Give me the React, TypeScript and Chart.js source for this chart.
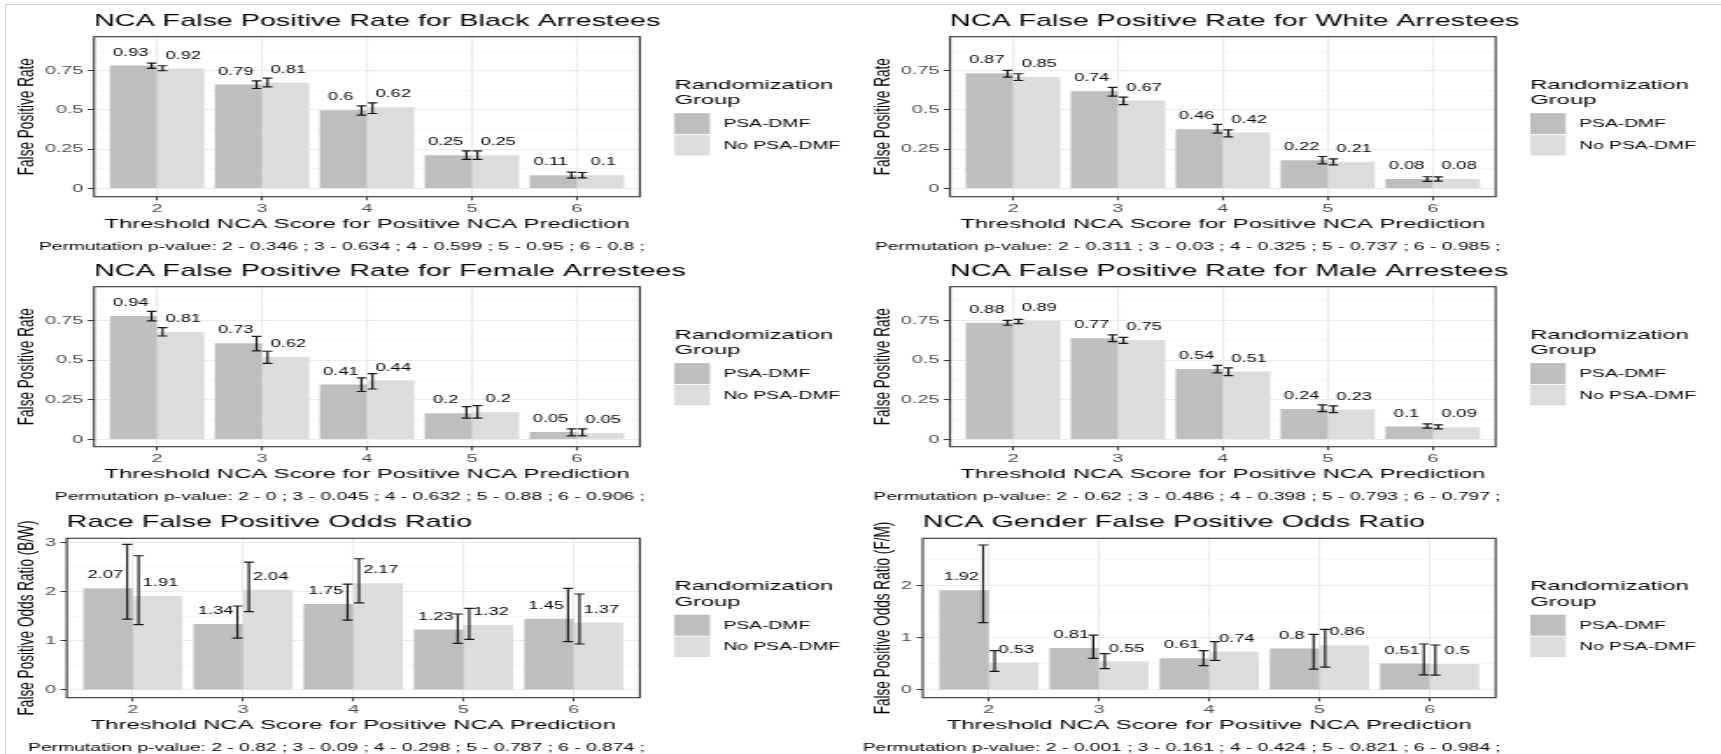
import React, { useEffect, useRef } from "react";
import { Chart, registerables } from "chart.js";

Chart.register(...registerables);

// ---------------- data ----------------
const categories = [2, 3, 4, 5, 6];
const categoryLabels = ["2", "3", "4", "5", "6"];
const groupNames = ["PSA-DMF", "No PSA-DMF"];
const legendTitleLines = ["Randomization", "Group"];
const xAxisTitle = "Threshold NCA Score for Positive NCA Prediction";
const captionPrefix = "Permutation p-value: ";

const rateTicks = [0, 0.25, 0.5, 0.75];
const rateTickLabels = ["0", "0.25", "0.5", "0.75"];
const rateMinorTicks = [0.125, 0.375, 0.625, 0.875];
const raceTicks = [0, 1, 2, 3];
const raceTickLabels = ["0", "1", "2", "3"];
const raceMinorTicks = [0.5, 1.5, 2.5];
const genderTicks = [0, 1, 2];
const genderTickLabels = ["0", "1", "2"];
const genderMinorTicks = [0.5, 1.5, 2.5];

// Black
const blackPsa = [0.784, 0.663, 0.499, 0.212, 0.085];
const blackNoPsa = [0.765, 0.676, 0.518, 0.212, 0.085];
const blackPsaLow = [0.765, 0.637, 0.467, 0.186, 0.066];
const blackPsaHigh = [0.799, 0.686, 0.527, 0.24, 0.104];
const blackNoPsaLow = [0.75, 0.648, 0.478, 0.186, 0.068];
const blackNoPsaHigh = [0.782, 0.703, 0.546, 0.24, 0.102];
const blackPsaLabels = ["0.93", "0.79", "0.6", "0.25", "0.11"];
const blackNoPsaLabels = ["0.92", "0.81", "0.62", "0.25", "0.1"];
const blackPValues = ["0.346", "0.634", "0.599", "0.95", "0.8"];

// White
const whitePsa = [0.735, 0.62, 0.378, 0.18, 0.06];
const whiteNoPsa = [0.71, 0.561, 0.357, 0.17, 0.06];
const whitePsaLow = [0.71, 0.588, 0.353, 0.157, 0.046];
const whitePsaHigh = [0.752, 0.644, 0.408, 0.204, 0.075];
const whiteNoPsaLow = [0.688, 0.535, 0.329, 0.151, 0.047];
const whiteNoPsaHigh = [0.731, 0.582, 0.374, 0.189, 0.074];
const whitePsaLabels = ["0.87", "0.74", "0.46", "0.22", "0.08"];
const whiteNoPsaLabels = ["0.85", "0.67", "0.42", "0.21", "0.08"];
const whitePValues = ["0.311", "0.03", "0.325", "0.737", "0.985"];

// Female
const femalePsa = [0.779, 0.607, 0.347, 0.166, 0.047];
const femaleNoPsa = [0.679, 0.521, 0.372, 0.173, 0.042];
const femalePsaLow = [0.748, 0.559, 0.303, 0.135, 0.023];
const femalePsaHigh = [0.809, 0.651, 0.389, 0.208, 0.067];
const femaleNoPsaLow = [0.653, 0.481, 0.319, 0.135, 0.023];
const femaleNoPsaHigh = [0.706, 0.557, 0.416, 0.214, 0.067];
const femalePsaLabels = ["0.94", "0.73", "0.41", "0.2", "0.05"];
const femaleNoPsaLabels = ["0.81", "0.62", "0.44", "0.2", "0.05"];
const femalePValues = ["0", "0.045", "0.632", "0.88", "0.906"];

// Male
const malePsa = [0.737, 0.639, 0.445, 0.192, 0.082];
const maleNoPsa = [0.748, 0.626, 0.429, 0.19, 0.078];
const malePsaLow = [0.721, 0.618, 0.42, 0.176, 0.072];
const malePsaHigh = [0.752, 0.66, 0.468, 0.219, 0.099];
const maleNoPsaLow = [0.731, 0.607, 0.403, 0.17, 0.067];
const maleNoPsaHigh = [0.758, 0.645, 0.452, 0.212, 0.093];
const malePsaLabels = ["0.88", "0.77", "0.54", "0.24", "0.1"];
const maleNoPsaLabels = ["0.89", "0.75", "0.51", "0.23", "0.09"];
const malePValues = ["0.62", "0.486", "0.398", "0.793", "0.797"];

// Race odds ratio (B/W)
const racePsa = [2.07, 1.34, 1.75, 1.23, 1.45];
const raceNoPsa = [1.91, 2.04, 2.17, 1.32, 1.37];
const racePsaLow = [1.442, 1.054, 1.422, 0.949, 0.982];
const racePsaHigh = [2.959, 1.707, 2.15, 1.545, 2.067];
const raceNoPsaLow = [1.327, 1.592, 1.769, 1.03, 0.935];
const raceNoPsaHigh = [2.728, 2.599, 2.667, 1.66, 1.951];
const racePsaLabels = ["2.07", "1.34", "1.75", "1.23", "1.45"];
const raceNoPsaLabels = ["1.91", "2.04", "2.17", "1.32", "1.37"];
const racePValues = ["0.82", "0.09", "0.298", "0.787", "0.874"];

// Gender odds ratio (F/M)
const genderPsa = [1.92, 0.81, 0.61, 0.8, 0.51];
const genderNoPsa = [0.53, 0.55, 0.74, 0.86, 0.5];
const genderPsaLow = [1.295, 0.609, 0.468, 0.4, 0.29];
const genderPsaHigh = [2.788, 1.055, 0.756, 1.07, 0.885];
const genderNoPsaLow = [0.359, 0.41, 0.571, 0.44, 0.288];
const genderNoPsaHigh = [0.756, 0.699, 0.929, 1.165, 0.865];
const genderPsaLabels = ["1.92", "0.81", "0.61", "0.8", "0.51"];
const genderNoPsaLabels = ["0.53", "0.55", "0.74", "0.86", "0.5"];
const genderPValues = ["0.001", "0.161", "0.424", "0.821", "0.984"];

// ---------------- styling / geometry ----------------
const SX = 1.75; // horizontal stretch of the whole picture
const FONT = "'Liberation Sans', Arial, Helvetica, sans-serif";
const GROUP_COLORS = ["#BEBEBE", "#DCDCDC"];
const F_TITLE = 16.4;
const F_AXIS_TITLE = 13.6;
const F_TICK = 11.3;
const F_LEG_TITLE = 13.6;
const F_LEG = 11;
const F_CAP = 11;
const F_BAR = 10.4;
const ERR_DODGE = 0.052;
const ERR_CAP = 0.046;
const LABEL_DODGE = 0.25;
const LABEL_GAP = 12.7;

const COLS = [
  { x0: 0, wu: 490, panelRight: 639.5, yTitleX: 27, keyLeft: 674, labelLeft: 723 },
  { x0: 858, wu: 493, panelRight: 1495.5, yTitleX: 883, keyLeft: 1530, labelLeft: 1579 },
];
const ROWS = [
  { top: 0, h: 256, titleY: 21, panelTop: 36.7, panelBottom: 196.7, captionY: 247 },
  { top: 250, h: 256, titleY: 271.5, panelTop: 286.7, panelBottom: 446.7, captionY: 497 },
  { top: 500, h: 254, titleY: 522, panelTop: 538.3, panelBottom: 697.7, captionY: 747.5 },
];

const panels = [
  {
    title: "NCA False Positive Rate for Black Arrestees", yTitle: "False Positive Rate",
    col: 0, row: 0, panelLeft: 94, yMin: -0.052, yMax: 0.967,
    ticks: rateTicks, tickLabels: rateTickLabels, minor: rateMinorTicks,
    psa: blackPsa, noPsa: blackNoPsa, psaLow: blackPsaLow, psaHigh: blackPsaHigh,
    noLow: blackNoPsaLow, noHigh: blackNoPsaHigh, psaLabels: blackPsaLabels, noLabels: blackNoPsaLabels,
    pvalues: blackPValues,
  },
  {
    title: "NCA False Positive Rate for White Arrestees", yTitle: "False Positive Rate",
    col: 1, row: 0, panelLeft: 950, yMin: -0.052, yMax: 0.967,
    ticks: rateTicks, tickLabels: rateTickLabels, minor: rateMinorTicks,
    psa: whitePsa, noPsa: whiteNoPsa, psaLow: whitePsaLow, psaHigh: whitePsaHigh,
    noLow: whiteNoPsaLow, noHigh: whiteNoPsaHigh, psaLabels: whitePsaLabels, noLabels: whiteNoPsaLabels,
    pvalues: whitePValues,
  },
  {
    title: "NCA False Positive Rate for Female Arrestees", yTitle: "False Positive Rate",
    col: 0, row: 1, panelLeft: 94, yMin: -0.045, yMax: 0.964,
    ticks: rateTicks, tickLabels: rateTickLabels, minor: rateMinorTicks,
    psa: femalePsa, noPsa: femaleNoPsa, psaLow: femalePsaLow, psaHigh: femalePsaHigh,
    noLow: femaleNoPsaLow, noHigh: femaleNoPsaHigh, psaLabels: femalePsaLabels, noLabels: femaleNoPsaLabels,
    pvalues: femalePValues,
  },
  {
    title: "NCA False Positive Rate for Male Arrestees", yTitle: "False Positive Rate",
    col: 1, row: 1, panelLeft: 950, yMin: -0.045, yMax: 0.964,
    ticks: rateTicks, tickLabels: rateTickLabels, minor: rateMinorTicks,
    psa: malePsa, noPsa: maleNoPsa, psaLow: malePsaLow, psaHigh: malePsaHigh,
    noLow: maleNoPsaLow, noHigh: maleNoPsaHigh, psaLabels: malePsaLabels, noLabels: maleNoPsaLabels,
    pvalues: malePValues,
  },
  {
    title: "Race False Positive Odds Ratio", yTitle: "False Positive Odds Ratio (B/W)",
    col: 0, row: 2, panelLeft: 66.7, yMin: -0.156, yMax: 3.083,
    ticks: raceTicks, tickLabels: raceTickLabels, minor: raceMinorTicks,
    psa: racePsa, noPsa: raceNoPsa, psaLow: racePsaLow, psaHigh: racePsaHigh,
    noLow: raceNoPsaLow, noHigh: raceNoPsaHigh, psaLabels: racePsaLabels, noLabels: raceNoPsaLabels,
    pvalues: racePValues,
  },
  {
    title: "NCA Gender False Positive Odds Ratio", yTitle: "False Positive Odds Ratio (F/M)",
    col: 1, row: 2, panelLeft: 922.7, yMin: -0.148, yMax: 2.917,
    ticks: genderTicks, tickLabels: genderTickLabels, minor: genderMinorTicks,
    psa: genderPsa, noPsa: genderNoPsa, psaLow: genderPsaLow, psaHigh: genderPsaHigh,
    noLow: genderNoPsaLow, noHigh: genderNoPsaHigh, psaLabels: genderPsaLabels, noLabels: genderNoPsaLabels,
    pvalues: genderPValues,
  },
];

function font(size: number) {
  return `${size}px ${FONT}`;
}

function PanelChart({ spec }: { spec: any }) {
  const ref = useRef<HTMLCanvasElement | null>(null);
  const col = COLS[spec.col];
  const row = ROWS[spec.row];

  useEffect(() => {
    const canvas = ref.current;
    if (!canvas) return;
    const ux = (X: number) => (X - col.x0) / SX;
    const uy = (Y: number) => Y - row.top;

    const isMajor = (v: number) => spec.ticks.some((t: number) => Math.abs(t - v) < 1e-9);
    const yLabel = (v: number) => {
      const k = spec.ticks.findIndex((t: number) => Math.abs(t - v) < 1e-9);
      return k >= 0 ? spec.tickLabels[k] : "";
    };
    const xLabel = (v: number) => {
      const k = categories.findIndex((c) => Math.abs(c - v) < 1e-9);
      return k >= 0 ? categoryLabels[k] : "";
    };

    const xScaleH = 27.8 + (F_AXIS_TITLE * 1.2) / 2;
    const padTop = uy(row.panelTop);
    const padBottom = row.h - uy(row.panelBottom) - xScaleH;
    const yScaleW = ux(spec.panelLeft);
    const padRight = col.wu - ux(col.panelRight);
    const yTitlePad = ux(col.yTitleX) - (F_AXIS_TITLE * 1.2) / 2;

    const overlay = {
      id: "overlay",
      afterDatasetsDraw(chart: any) {
        const ctx = chart.ctx;
        const xs = chart.scales.x;
        const ys = chart.scales.y;
        ctx.save();
        ctx.strokeStyle = "#1A1A1A";
        ctx.lineWidth = 1.2;
        const sets = [
          [spec.psaLow, spec.psaHigh, -ERR_DODGE],
          [spec.noLow, spec.noHigh, ERR_DODGE],
        ];
        sets.forEach(([lo, hi, dx]: any) => {
          categories.forEach((c, i) => {
            const x = xs.getPixelForValue(c + dx);
            const xl = xs.getPixelForValue(c + dx - ERR_CAP);
            const xr = xs.getPixelForValue(c + dx + ERR_CAP);
            const y1 = ys.getPixelForValue(lo[i]);
            const y2 = ys.getPixelForValue(hi[i]);
            ctx.beginPath();
            ctx.moveTo(x, y1);
            ctx.lineTo(x, y2);
            ctx.moveTo(xl, y1);
            ctx.lineTo(xr, y1);
            ctx.moveTo(xl, y2);
            ctx.lineTo(xr, y2);
            ctx.stroke();
          });
        });
        ctx.fillStyle = "#000";
        ctx.font = font(F_BAR);
        ctx.textAlign = "center";
        ctx.textBaseline = "middle";
        [spec.psaLabels, spec.noLabels].forEach((labs: string[], d: number) => {
          const meta = chart.getDatasetMeta(d);
          categories.forEach((c, i) => {
            const x = xs.getPixelForValue(c + (d === 0 ? -LABEL_DODGE : LABEL_DODGE));
            const y = meta.data[i].y - LABEL_GAP;
            ctx.fillText(labs[i], x, y);
          });
        });
        ctx.restore();
      },
      afterDraw(chart: any) {
        const ctx = chart.ctx;
        const a = chart.chartArea;
        ctx.save();
        // panel border
        ctx.strokeStyle = "#333333";
        ctx.lineWidth = 1.1;
        ctx.strokeRect(a.left, a.top, a.right - a.left, a.bottom - a.top);
        // title
        ctx.fillStyle = "#000";
        ctx.textBaseline = "middle";
        ctx.textAlign = "left";
        ctx.font = font(F_TITLE);
        ctx.fillText(spec.title, a.left, uy(row.titleY));
        // caption
        ctx.font = font(F_CAP);
        ctx.textAlign = "right";
        const caption =
          captionPrefix + categories.map((c, i) => `${c} - ${spec.pvalues[i]} ;`).join(" ");
        ctx.fillText(caption, ux(col.panelRight + 5), uy(row.captionY));
        // legend
        const kx = ux(col.keyLeft);
        const kw = 35.5 / SX;
        const pt = uy(row.panelTop);
        ctx.textAlign = "left";
        ctx.font = font(F_LEG_TITLE);
        ctx.fillText(legendTitleLines[0], kx, pt + 48.4);
        ctx.fillText(legendTitleLines[1], kx, pt + 63.6);
        const keys = [
          { y: pt + 76.4, h: 21 },
          { y: pt + 98.3, h: 20.5 },
        ];
        ctx.font = font(F_LEG);
        keys.forEach((k, i) => {
          ctx.fillStyle = GROUP_COLORS[i];
          ctx.fillRect(kx, k.y, kw, k.h);
          ctx.fillStyle = "#000";
          ctx.fillText(groupNames[i], ux(col.labelLeft), k.y + k.h / 2 + 0.5);
        });
        ctx.restore();
      },
    };

    const chart = new Chart(canvas, {
      type: "bar",
      data: {
        datasets: [
          {
            label: groupNames[0],
            data: categories.map((c, i) => ({ x: c, y: spec.psa[i] })),
            backgroundColor: GROUP_COLORS[0],
            borderWidth: 0,
          },
          {
            label: groupNames[1],
            data: categories.map((c, i) => ({ x: c, y: spec.noPsa[i] })),
            backgroundColor: GROUP_COLORS[1],
            borderWidth: 0,
          },
        ],
      },
      options: {
        responsive: false,
        animation: false,
        devicePixelRatio: 1,
        events: [],
        categoryPercentage: 0.9,
        barPercentage: 1.0,
        layout: { padding: { left: 0, top: padTop, right: padRight, bottom: padBottom } },
        plugins: {
          legend: { display: false },
          tooltip: { enabled: false },
          title: { display: false },
        },
        scales: {
          x: {
            type: "linear",
            min: 1.4,
            max: 6.6,
            bounds: "data",
            offset: false,
            border: { display: false },
            grid: {
              offset: false,
              color: "#EBEBEB",
              lineWidth: 1.1,
              drawTicks: true,
              tickLength: 3.6,
              tickColor: "#333333",
              tickWidth: 1,
            },
            ticks: {
              autoSkip: false,
              maxRotation: 0,
              padding: 1.6,
              color: "#4D4D4D",
              font: { family: FONT, size: F_TICK },
              callback: (v: any) => xLabel(Number(v)),
            },
            afterBuildTicks: (s: any) => {
              s.ticks = categories.map((c) => ({ value: c }));
            },
            afterFit: (s: any) => {
              s.height = xScaleH;
            },
            title: {
              display: true,
              text: xAxisTitle,
              color: "#000",
              font: { family: FONT, size: F_AXIS_TITLE },
              padding: { top: 0, bottom: 0 },
            },
          },
          y: {
            type: "linear",
            min: spec.yMin,
            max: spec.yMax,
            bounds: "data",
            border: { display: false },
            grid: {
              offset: false,
              drawTicks: true,
              tickLength: 3.6,
              tickWidth: 1,
              color: (c: any) => (c.tick && isMajor(c.tick.value) ? "#EBEBEB" : "#F3F3F3"),
              lineWidth: (c: any) => (c.tick && isMajor(c.tick.value) ? 1.1 : 0.7),
              tickColor: (c: any) =>
                c.tick && isMajor(c.tick.value) ? "#333333" : "rgba(0,0,0,0)",
            },
            ticks: {
              autoSkip: false,
              padding: 2.5,
              color: "#4D4D4D",
              font: { family: FONT, size: F_TICK },
              callback: (v: any) => yLabel(Number(v)),
            },
            afterBuildTicks: (s: any) => {
              const vals = [...spec.ticks, ...spec.minor].sort((p: number, q: number) => p - q);
              s.ticks = vals.map((v: number) => ({ value: v }));
            },
            afterFit: (s: any) => {
              s.width = yScaleW;
            },
            title: {
              display: true,
              text: spec.yTitle,
              color: "#000",
              font: { family: FONT, size: F_AXIS_TITLE },
              padding: { top: yTitlePad, bottom: 0 },
            },
          },
        },
      } as any,
      plugins: [overlay],
    } as any);

    return () => chart.destroy();
  }, []);

  return (
    <canvas
      ref={ref}
      width={col.wu}
      height={row.h}
      style={{
        position: "absolute",
        left: col.x0,
        top: row.top,
        width: col.wu * SX,
        height: row.h,
      }}
    />
  );
}

export default function App() {
  return (
    <div
      style={{
        position: "absolute",
        left: 0,
        top: 0,
        width: 1721,
        height: 754,
        background: "#fff",
        overflow: "hidden",
      }}
    >
      <div
        style={{
          position: "absolute",
          left: 5,
          top: 4,
          right: 0,
          bottom: 0,
          borderLeft: "1px solid #D0D0D0",
          borderTop: "1px solid #D0D0D0",
        }}
      />
      {panels.map((p, i) => (
        <PanelChart key={i} spec={p} />
      ))}
    </div>
  );
}
